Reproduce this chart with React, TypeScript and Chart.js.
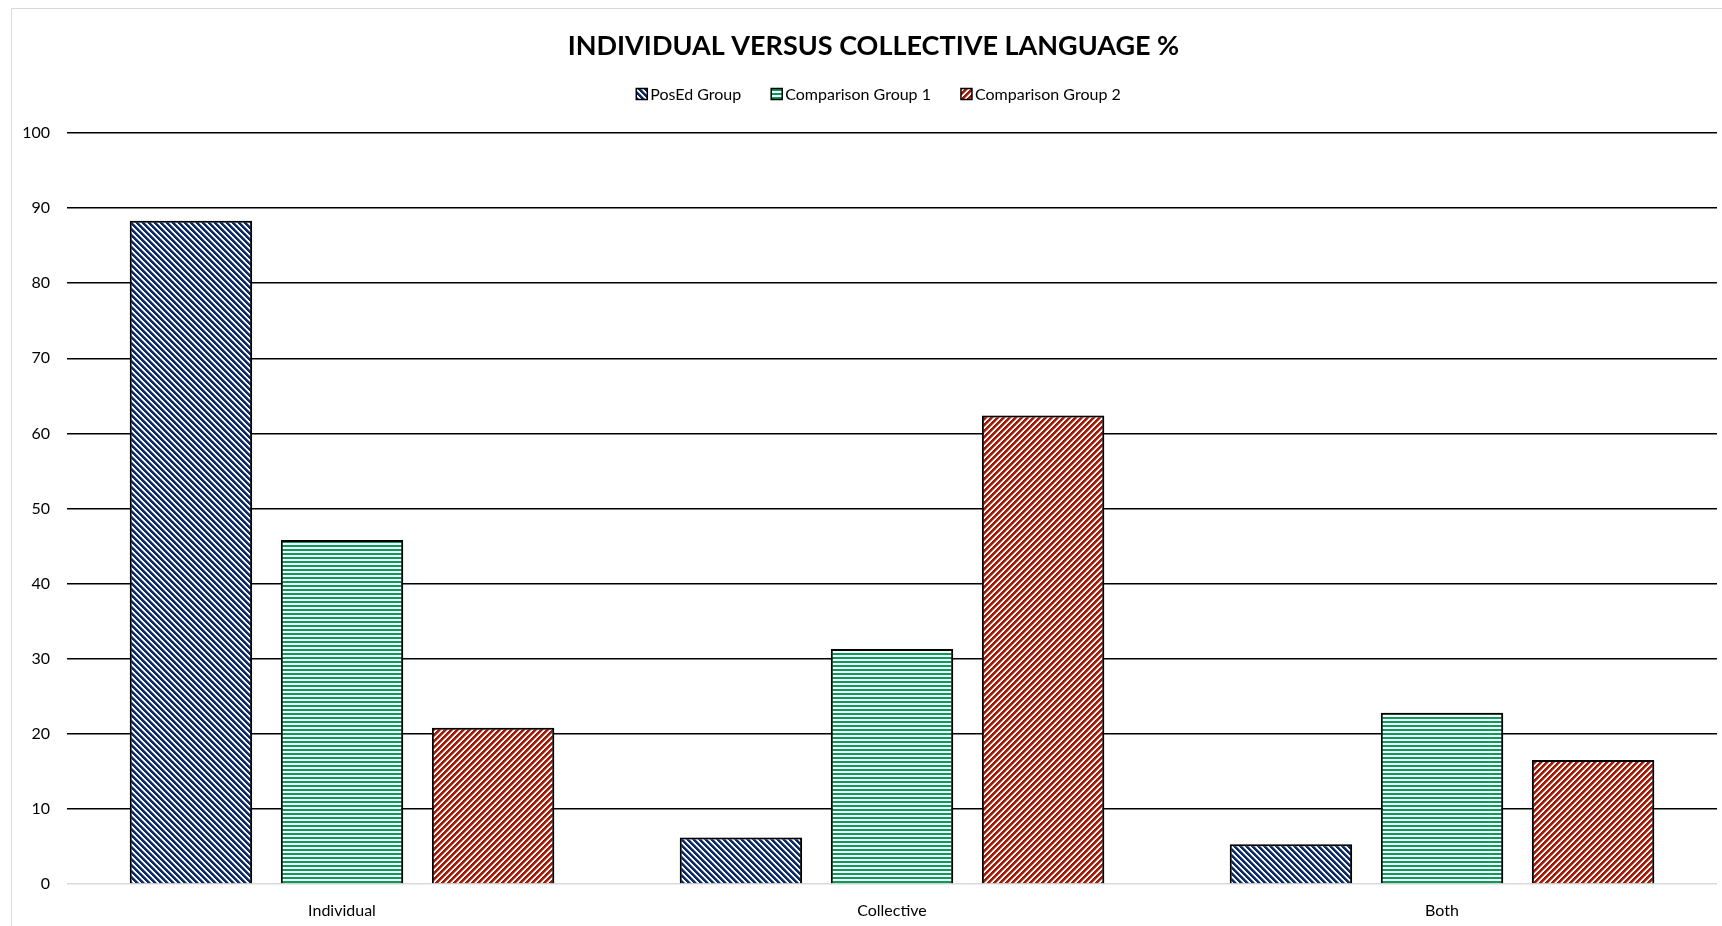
import React, { useEffect, useRef } from "react";
import { Chart, registerables } from "chart.js";

Chart.register(...registerables);

// Data
const categories = ["Individual", "Collective", "Both"];
const seriesNames = ["PosEd Group", "Comparison Group 1", "Comparison Group 2"];
const posEdValues = [88.3, 6.2, 5.3];
const comparison1Values = [45.8, 31.3, 22.8];
const comparison2Values = [20.8, 62.4, 16.5];
const yTicks = [0, 10, 20, 30, 40, 50, 60, 70, 80, 90, 100];
const chartTitle = "INDIVIDUAL VERSUS COLLECTIVE LANGUAGE %";

const FONT = "Lato, 'Open Sans', sans-serif";
const CANVAS_W = 1723;
const CANVAS_H = 930;

type PatternKind = "down" | "up" | "horiz";

// Builds a small repeating hatch tile used as a bar fill
function makePattern(kind: PatternKind, color: string, soft: string): CanvasPattern | string {
  const size = kind === "horiz" ? 4 : 6;
  const tile = document.createElement("canvas");
  tile.width = size;
  tile.height = size;
  const c = tile.getContext("2d");
  if (!c) return color;
  c.fillStyle = "#ffffff";
  c.fillRect(0, 0, size, size);
  for (let y = 0; y < size; y++) {
    for (let x = 0; x < size; x++) {
      let k = 0;
      if (kind === "down") k = (((x - y) % size) + size) % size;
      else if (kind === "up") k = (x + y) % size;
      else k = y % size;
      if (kind === "horiz") {
        if (k < 2) {
          c.fillStyle = color;
          c.fillRect(x, y, 1, 1);
        }
      } else if (k < 3) {
        c.fillStyle = color;
        c.fillRect(x, y, 1, 1);
      } else if (k === 3) {
        c.fillStyle = soft;
        c.fillRect(x, y, 1, 1);
      }
    }
  }
  const p = c.createPattern(tile, "repeat");
  return p || color;
}

// Draws the title and the legend above the plot
const headerPlugin = {
  id: "header",
  afterDraw(chart: any) {
    const ctx: CanvasRenderingContext2D = chart.ctx;
    const w = chart.width;
    ctx.save();
    ctx.fillStyle = "#000";
    ctx.textBaseline = "middle";
    ctx.textAlign = "center";
    ctx.font = `bold 27px ${FONT}`;
    ctx.fillText(chartTitle, w / 2, 37);

    ctx.font = `16px ${FONT}`;
    const box = 11;
    const boxGap = 3;
    const itemGap = 30;
    const ds = chart.data.datasets;
    const widths = ds.map((d: any) => box + boxGap + ctx.measureText(d.label).width);
    const total = widths.reduce((a: number, b: number) => a + b, 0) + itemGap * (ds.length - 1);
    let x = w / 2 + 5 - total / 2;
    const yc = 85;
    ctx.textAlign = "left";
    ds.forEach((d: any, i: number) => {
      ctx.fillStyle = d.backgroundColor;
      ctx.fillRect(x, yc - box / 2, box, box);
      ctx.lineWidth = 1.5;
      ctx.strokeStyle = "#000";
      ctx.strokeRect(x, yc - box / 2, box, box);
      ctx.fillStyle = "#000";
      ctx.fillText(d.label, x + box + boxGap, yc + 1);
      x += widths[i] + itemGap;
    });
    ctx.restore();
  },
};

// Soft drop shadow under the bars
const shadowPlugin = {
  id: "barShadow",
  beforeDatasetsDraw(chart: any) {
    const ctx = chart.ctx;
    ctx.save();
    ctx.shadowColor = "rgba(0,0,0,0.35)";
    ctx.shadowBlur = 3;
    ctx.shadowOffsetX = 1;
    ctx.shadowOffsetY = 1;
  },
  afterDatasetsDraw(chart: any) {
    chart.ctx.restore();
  },
};

export default function App() {
  const canvasRef = useRef<HTMLCanvasElement | null>(null);

  useEffect(() => {
    const canvas = canvasRef.current;
    if (!canvas) return;
    const blue = makePattern("down", "#0c2a68", "#7d8db0");
    const green = makePattern("horiz", "#00a05a", "#7fcfac");
    const red = makePattern("up", "#a51804", "#c9776c");
    const values = [posEdValues, comparison1Values, comparison2Values];
    const fills = [blue, green, red];

    const chart = new Chart(canvas, {
      type: "bar",
      data: {
        labels: categories,
        datasets: seriesNames.map((name, i) => ({
          label: name,
          data: values[i],
          backgroundColor: fills[i] as any,
          borderColor: "#000",
          borderWidth: 2,
          categoryPercentage: 0.824,
          barPercentage: 0.81,
        })),
      },
      options: {
        responsive: false,
        animation: false,
        devicePixelRatio: 1,
        layout: { padding: { top: 124, right: 18, left: 0, bottom: 0 } },
        plugins: {
          legend: { display: false },
          title: { display: false },
          tooltip: { enabled: false },
        },
        scales: {
          x: {
            grid: { display: false, drawTicks: false },
            border: { display: false },
            ticks: {
              color: "#000",
              font: { family: FONT, size: 16 },
              padding: 17,
            },
            afterFit: (s: any) => {
              s.height = 55;
            },
          },
          y: {
            min: 0,
            max: 100,
            afterBuildTicks: (s: any) => {
              s.ticks = yTicks.map((v) => ({ value: v }));
            },
            grid: {
              drawTicks: false,
              lineWidth: 1.5,
              color: (c: any) => (c.tick && c.tick.value === 0 ? "#d9d9d9" : "#000"),
            },
            border: { display: false },
            ticks: {
              color: "#000",
              font: { family: FONT, size: 16 },
              padding: 17,
            },
            afterFit: (s: any) => {
              s.width = 55;
            },
          },
        },
      },
      plugins: [shadowPlugin, headerPlugin],
    });
    return () => chart.destroy();
  }, []);

  return (
    <div
      style={{
        position: "fixed",
        left: 0,
        top: 0,
        width: 1722,
        height: 926,
        overflow: "hidden",
        background: "#fff",
      }}
    >
      <div
        style={{
          position: "absolute",
          left: 11,
          top: 8,
          border: "1px solid #d9d9d9",
          width: CANVAS_W,
          height: CANVAS_H,
        }}
      >
        <canvas
          ref={canvasRef}
          width={CANVAS_W}
          height={CANVAS_H}
          style={{ display: "block", width: CANVAS_W, height: CANVAS_H }}
        />
      </div>
    </div>
  );
}
